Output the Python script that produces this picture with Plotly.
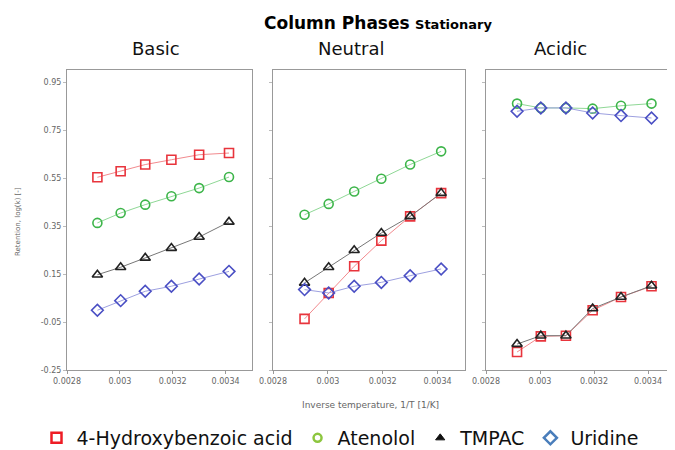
import plotly.graph_objects as go

# Inverse temperature (1/K)
inv_T = [0.002915, 0.003003, 0.003096, 0.003195, 0.0033, 0.003413]

panels = ["Basic", "Neutral", "Acidic"]
compounds = ["4-Hydroxybenzoic acid", "Atenolol", "TMPAC", "Uridine"]

# Retention log(k) per panel
hba_basic = [0.553, 0.578, 0.606, 0.626, 0.647, 0.654]
aten_basic = [0.363, 0.404, 0.439, 0.474, 0.508, 0.554]
tmpac_basic = [0.147, 0.178, 0.217, 0.258, 0.304, 0.367]
urid_basic = [-0.001, 0.039, 0.078, 0.099, 0.129, 0.161]

hba_neutral = [-0.037, 0.071, 0.182, 0.289, 0.390, 0.487]
aten_neutral = [0.397, 0.442, 0.494, 0.547, 0.606, 0.661]
tmpac_neutral = [0.113, 0.178, 0.249, 0.321, 0.390, 0.487]
urid_neutral = [0.085, 0.071, 0.099, 0.115, 0.143, 0.171]

hba_acidic = [-0.175, -0.110, -0.107, -0.001, 0.054, 0.099]
aten_acidic = [0.860, 0.842, 0.842, 0.839, 0.851, 0.860]
tmpac_acidic = [-0.142, -0.107, -0.107, 0.006, 0.054, 0.101]
urid_acidic = [0.828, 0.842, 0.842, 0.821, 0.810, 0.800]

y_ticks = [-0.25, -0.05, 0.15, 0.35, 0.55, 0.75, 0.95]
y_ticktext = ["-0.25", "-0.05", "0.15", "0.35", "0.55", "0.75", "0.95"]
x_ticks = [0.0028, 0.003, 0.0032, 0.0034]
x_ticktext = ["0.0028", "0.003", "0.0032", "0.0034"]

data = {
    "Basic": [hba_basic, aten_basic, tmpac_basic, urid_basic],
    "Neutral": [hba_neutral, aten_neutral, tmpac_neutral, urid_neutral],
    "Acidic": [hba_acidic, aten_acidic, tmpac_acidic, urid_acidic],
}

symbols = ["square-open", "circle-open", "triangle-up-open", "diamond-open"]
mcolors = ["#e8343c", "#3db54a", "#222222", "#4a4fc4"]
lcolors = ["#f28a8e", "#8fd896", "#777777", "#9da0e0"]
leg_colors = ["#ee1c25", "#8dc63f", "#111111", "#4a7ebb"]
leg_symbols = ["square-open", "circle-open", "triangle-up", "diamond-open"]
leg_sizes = [10, 8, 8, 10]

# page is offset by the default 8px body margin
OFF = 8
W, H = 675 - OFF, 450 - OFF


def px(x):
    return (x - OFF) / W


def py(y):
    return 1 - (y - OFF) / H


page_dom = [(67, 252), (273, 465), (486, 676)]
y_dom = [py(370), py(70)]
FONT = "DejaVu Sans, sans-serif"

fig = go.Figure()
for i, p in enumerate(panels):
    ax = "" if i == 0 else str(i + 1)
    for j, c in enumerate(compounds):
        fig.add_trace(go.Scatter(
            x=inv_T, y=data[p][j], mode="lines+markers",
            xaxis="x" + ax, yaxis="y" + ax, showlegend=False,
            line=dict(color=lcolors[j], width=1),
            marker=dict(symbol=symbols[j], size=9, color=mcolors[j],
                        line=dict(width=1.6, color=mcolors[j])),
            hoverinfo="skip"))
    fig.layout["xaxis" + ax] = dict(
        domain=[px(page_dom[i][0]), min(1.0, px(page_dom[i][1]))], range=[0.0028, 0.0035],
        anchor="y" + ax, tickvals=x_ticks, ticktext=x_ticktext, automargin=False,
        ticks="outside", ticklen=3, tickcolor="#999",
        tickfont=dict(size=8, color="#666", family=FONT),
        showgrid=False, zeroline=False, showline=True, mirror=True,
        linecolor="#999", linewidth=1)
    fig.layout["yaxis" + ax] = dict(
        domain=y_dom, range=[-0.25, 1.0], anchor="x" + ax, automargin=False,
        tickvals=y_ticks, ticktext=y_ticktext if i == 0 else [""] * len(y_ticks),
        ticks="outside", ticklen=3, tickcolor="#bbb",
        tickfont=dict(size=8, color="#666", family=FONT),
        showgrid=False, zeroline=False, showline=True, mirror=True,
        linecolor="#999", linewidth=1)

for j, c in enumerate(compounds):
    fig.add_trace(go.Scatter(
        x=[None], y=[None], mode="markers", name=c,
        marker=dict(symbol=leg_symbols[j], size=leg_sizes[j], color=leg_colors[j],
                    line=dict(width=2.5 if j != 2 else 1, color=leg_colors[j]))))

ann = [
    dict(x=px(378), y=py(23),
         text="<b>Column Phases</b> <b><span style='font-size:13px'>Stationary</span></b>",
         font=dict(size=17, color="#000")),
    dict(x=px(156), y=py(48), text="Basic", font=dict(size=18, color="#111")),
    dict(x=px(351), y=py(48), text="Neutral", font=dict(size=18, color="#111")),
    dict(x=px(560), y=py(48), text="Acidic", font=dict(size=18, color="#111")),
    dict(x=px(370), y=py(405), text="Inverse temperature, 1/T [1/K]",
         font=dict(size=9, color="#666")),
    dict(x=px(18), y=py(222), text="Retention, log(k) [-]", textangle=-90,
         font=dict(size=7, color="#666")),
]
for a in ann:
    a.update(xref="paper", yref="paper", showarrow=False, xanchor="center", yanchor="middle")

fig.update_layout(
    width=W, height=H, margin=dict(l=0, r=0, t=0, b=0, autoexpand=False),
    paper_bgcolor="white", plot_bgcolor="white",
    font=dict(family=FONT),
    annotations=ann,
    legend=dict(orientation="h", x=px(340), xanchor="center", y=py(438), yanchor="middle",
                font=dict(size=19, color="#111"), itemwidth=30, tracegroupgap=0),
)

fig.write_html("out.html")
